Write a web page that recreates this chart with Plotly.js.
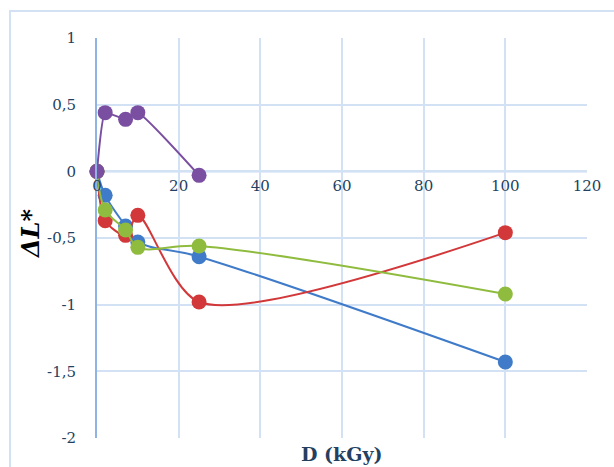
<!DOCTYPE html>
<html>
<head>
<meta charset="utf-8">
<script src="https://cdn.plot.ly/plotly-3.0.1.min.js"></script>
<style>html,body{margin:0;padding:0;background:#fff;}#chart{width:614px;height:467px;}</style>
</head>
<body>
<div id="chart"></div>
<script>
const dose = [0, 2, 7, 10, 25, 100];
const dosePurple = [0, 2, 7, 10, 25];
const blueVals = [0, -0.18, -0.41, -0.53, -0.64, -1.43];
const redVals = [0, -0.37, -0.48, -0.33, -0.98, -0.46];
const greenVals = [0, -0.29, -0.44, -0.57, -0.56, -0.92];
const purpleVals = [0, 0.44, 0.39, 0.44, -0.03];
const xTicks = [0, 20, 40, 60, 80, 100, 120];
const yTicks = [1, 0.5, 0, -0.5, -1, -1.5, -2];
const yTickText = ['1', '0,5', '0', '-0,5', '-1', '-1,5', '-2'];

function series(x, y, color, smooth) {
  return {
    x: x, y: y, type: 'scatter', mode: 'lines+markers', cliponaxis: false,
    line: {color: color, width: 2, shape: 'spline', smoothing: smooth},
    marker: {color: color, size: 15},
    showlegend: false, hoverinfo: 'x+y'
  };
}

const data = [
  series(dose, blueVals, '#3f7bc8', 1),
  series(dose, redVals, '#d2383a', 0.8),
  series(dose, greenVals, '#8fbc3e', 1),
  series(dosePurple, purpleVals, '#7a4ea0', 0.4)
];

const serif = '"DejaVu Serif", "Liberation Serif", serif';
const tickFont = {family: serif, size: 15, color: '#243f60'};

const layout = {
  width: 614, height: 467,
  margin: {l: 97, r: 27, t: 38, b: 29},
  paper_bgcolor: '#ffffff', plot_bgcolor: '#ffffff',
  font: {family: serif},
  xaxis: {
    range: [0, 120], tickvals: xTicks, ticktext: xTicks.map(String),
    showgrid: true, gridcolor: '#d3e1f4', gridwidth: 2,
    zeroline: false, showline: false,
    anchor: 'free', position: 2/3, side: 'bottom',
    ticks: '', tickfont: tickFont, ticklabelstandoff: 4
  },
  yaxis: {
    range: [-2, 1], tickvals: yTicks, ticktext: yTickText,
    showgrid: true, gridcolor: '#d3e1f4', gridwidth: 2,
    zeroline: false, showline: true, linecolor: '#8fb4e3', linewidth: 2,
    ticks: '', tickfont: tickFont, ticklabelstandoff: 16
  },
  shapes: [
    {type: 'line', xref: 'x', yref: 'y', x0: 0, x1: 120, y0: 0, y1: 0,
     line: {color: '#8fb4e3', width: 2}, layer: 'below'},
    {type: 'rect', xref: 'paper', yref: 'paper',
     x0: -87/490, x1: 1.1, y0: -0.2, y1: 1 + 27/400,
     line: {color: '#d3e1f4', width: 2}, fillcolor: 'rgba(0,0,0,0)'}
  ],
  annotations: [
    {text: '<b>D (kGy)</b>', xref: 'paper', yref: 'paper', x: 0.5, y: -0.04,
     xanchor: 'center', yanchor: 'middle', showarrow: false,
     font: {family: serif, size: 19, color: '#243f60'}},
    {text: '<b><i>ΔL*</i></b>', xref: 'paper', yref: 'paper', x: -67/490, y: 0.51,
     xanchor: 'center', yanchor: 'middle', showarrow: false, textangle: -90,
     font: {family: serif, size: 24, color: '#000000'}}
  ]
};

Plotly.newPlot('chart', data, layout, {displayModeBar: false, staticPlot: true});
</script>
</body>
</html>
